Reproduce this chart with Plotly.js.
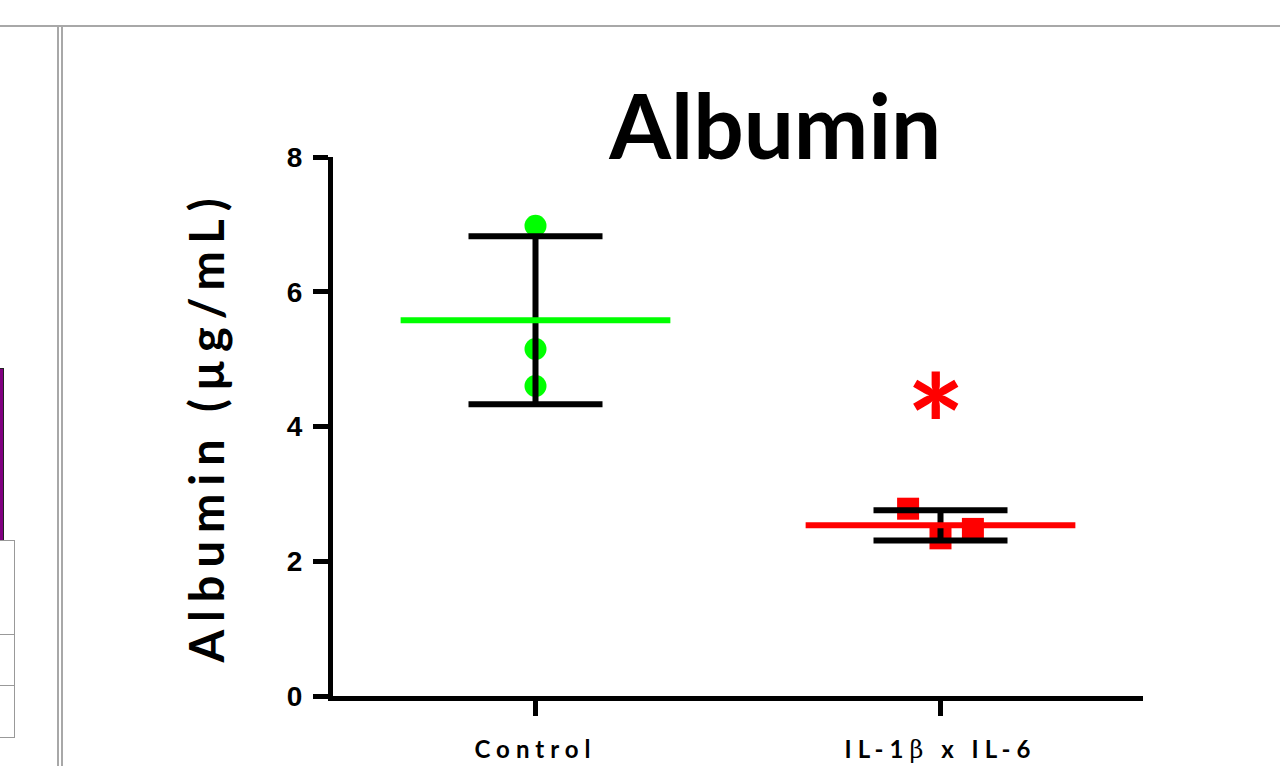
<!DOCTYPE html>
<html><head><meta charset="utf-8">
<script src="https://cdn.plot.ly/plotly-3.0.1.min.js"></script>
<style>
html,body{margin:0;padding:0;background:#fff;overflow:hidden}
#chart{width:1280px;height:766px;position:absolute;left:0;top:0}
.deco{position:absolute;z-index:5;box-sizing:border-box}
.ytitle{letter-spacing:8px}
.xtick text{letter-spacing:6px}
</style></head><body>
<div id="chart"></div>
<div class="deco" style="left:0;top:25px;width:1280px;height:2px;background:#a8a8a8"></div>
<div class="deco" style="left:57px;top:26px;width:2px;height:740px;background:#a8a8a8"></div>
<div class="deco" style="left:61px;top:26px;width:2px;height:740px;background:#a8a8a8"></div>
<div class="deco" style="left:0;top:368px;width:4px;height:172px;background:#800080;border-right:1px solid #222;border-top:1px solid #222"></div>
<div class="deco" style="left:-1px;top:540px;width:16px;height:95px;border:1px solid #999;background:#fff"></div>
<div class="deco" style="left:-1px;top:634px;width:16px;height:52px;border:1px solid #999;background:#fff"></div>
<div class="deco" style="left:-1px;top:685px;width:16px;height:53px;border:1px solid #999;background:#fff"></div>
<script>
// ---- data ----
const categories = ['Control', 'IL-1\u03b2 x IL-6'];
const tickLabels = ['Control', 'IL-1<span style="font-family:DejaVu Serif;font-weight:normal">\u03b2</span> x IL-6'];
const controlValues = [6.98, 5.15, 4.60];
const il1bIl6Values = [2.78, 2.34, 2.48];
const significanceY = 4.42;   // height of the "*" marker above IL-1β x IL-6
const yTicks = [0, 2, 4, 6, 8];

// ---- helpers ----
function mean(a){return a.reduce((s,v)=>s+v,0)/a.length;}
function sd(a){const m=mean(a);return Math.sqrt(a.reduce((s,v)=>s+(v-m)*(v-m),0)/(a.length-1));}

const groups = [
  {vals: controlValues, color: '#00ff00', symbol: 'circle', jitter: [0, 0, 0]},
  {vals: il1bIl6Values, color: '#ff0000', symbol: 'square', jitter: [-0.08, 0, 0.08]}
];

const traces = [];
groups.forEach((g, i) => {
  traces.push({
    type: 'scatter', mode: 'markers', name: categories[i],
    x: g.vals.map((v, k) => i + g.jitter[k]), y: g.vals,
    marker: {color: g.color, size: 22, symbol: g.symbol},
    hoverinfo: 'y', showlegend: false
  });
});
groups.forEach((g, i) => {
  traces.push({
    type: 'scatter', mode: 'markers', x: [i], y: [mean(g.vals)],
    marker: {size: 1, opacity: 0},
    error_y: {type: 'data', array: [sd(g.vals)], visible: true, color: '#000', thickness: 6, width: 67},
    hoverinfo: 'skip', showlegend: false
  });
});
groups.forEach((g, i) => {
  const m = mean(g.vals);
  traces.push({
    type: 'scatter', mode: 'lines', x: [i - 0.333, i + 0.333], y: [m, m],
    line: {color: g.color, width: 6}, hoverinfo: 'skip', showlegend: false
  });
});

const layout = {
  width: 1280, height: 766,
  margin: {l: 333, r: 137, t: 157, b: 70},
  paper_bgcolor: 'rgba(0,0,0,0)', plot_bgcolor: 'rgba(0,0,0,0)',
  showlegend: false,
  title: {text: 'Albumin', font: {family: 'Lato', size: 89, weight: 700, color: '#000'},
          xref: 'paper', x: 0.546, xanchor: 'center', yref: 'container', y: 0.833, yanchor: 'middle'},
  xaxis: {
    range: [-0.5, 1.5], tickmode: 'array', tickvals: [0, 1], ticktext: tickLabels,
    showline: true, linewidth: 5, linecolor: '#000', ticks: 'outside', ticklen: 15, tickwidth: 5, tickcolor: '#000',
    showgrid: false, zeroline: false, ticklabelstandoff: 13,
    tickfont: {family: 'Lato', size: 24, weight: 700, color: '#000'}
  },
  yaxis: {
    range: [0, 8], tickmode: 'array', tickvals: yTicks,
    showline: true, linewidth: 5, linecolor: '#000', ticks: 'outside', ticklen: 15, tickwidth: 5, tickcolor: '#000',
    showgrid: false, zeroline: false, ticklabelstandoff: 5,
    tickfont: {family: 'Liberation Sans', size: 28, weight: 700, color: '#000'},
    title: {text: 'Albumin (\u00b5g/mL)', standoff: 49, font: {family: 'Lato', size: 47, weight: 700, color: '#000'}}
  },
  annotations: [{
    x: 0.99, y: significanceY, xref: 'x', yref: 'y', text: '*', showarrow: false,
    font: {family: 'Lato', size: 140, weight: 700, color: '#ff0000'}, xanchor: 'center', yanchor: 'middle', yshift: -26
  }]
};

Plotly.newPlot('chart', traces, layout, {displayModeBar: false, staticPlot: true});
</script>
</body></html>
